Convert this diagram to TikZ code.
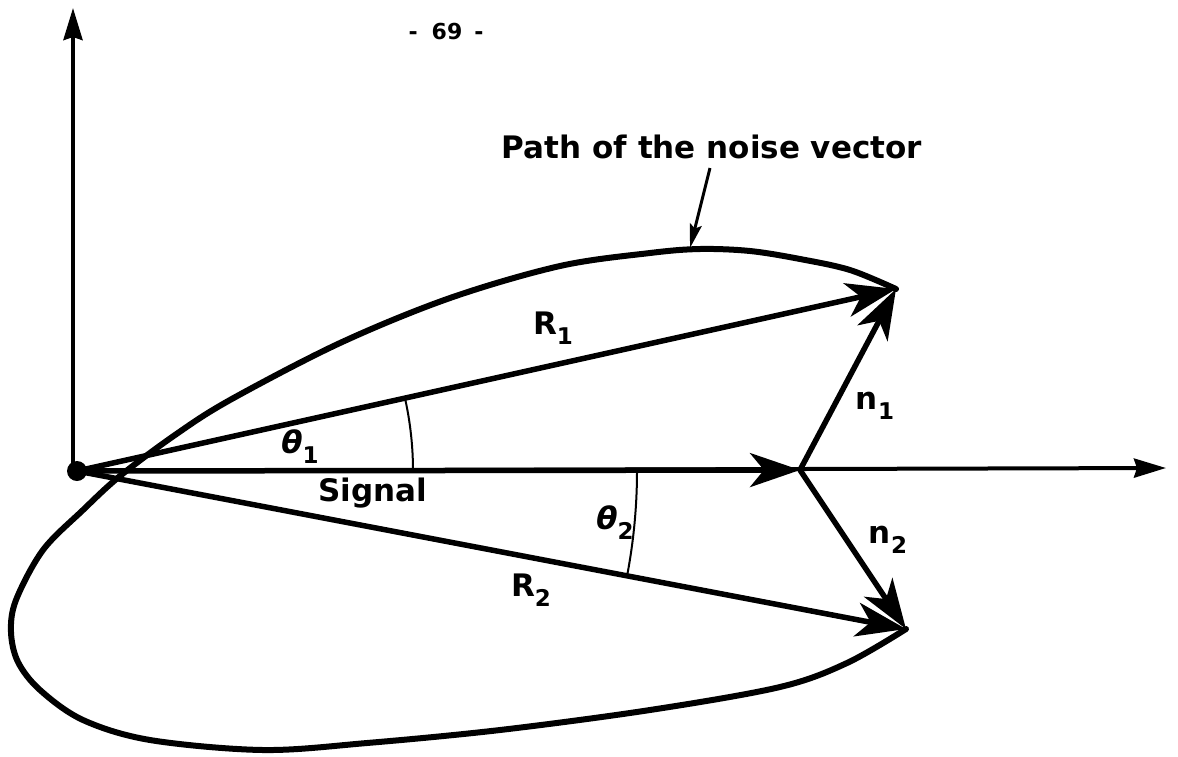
\documentclass[tikz,border=0pt]{standalone}
\usepackage{fontspec}
\setmainfont{DejaVu Sans}
\usetikzlibrary{arrows.meta}
\newcommand\lsub[1]{\raisebox{-0.32em}{\fontsize{23}{23}\selectfont #1}}
\begin{document}
\begin{tikzpicture}[x=1pt,y=-1pt,
  lbl/.style={inner sep=0pt, font=\fontsize{31}{31}\selectfont\bfseries},
  vec/.style={line width=5.5pt, -{Stealth[length=50pt,width=34pt,inset=14pt]}},
  axis/.style={line width=4pt, -{Stealth[length=32pt,width=19pt,inset=3pt]}},
  curvepath/.style={line width=6pt, line join=round, line cap=round},
  anglearc/.style={line width=2pt},
  pointer/.style={line width=3pt, -{Stealth[length=24pt,width=12pt,inset=4pt]}}]
\useasboundingbox (0,0) rectangle (1178,756);
% key points
\coordinate (O) at (77,471);
\coordinate (Oy) at (73,471);
\coordinate (Ytop) at (73,8);
\coordinate (Xend) at (1166,468);
\coordinate (J) at (800,470);
\coordinate (P1) at (896,289);
\coordinate (P2) at (906,629);
\coordinate (Ptail) at (710,168);
\coordinate (Phead) at (690,248);
% noise path
\draw[curvepath] plot[smooth, tension=0.55] coordinates {
 (896,289) (850,270) (800,259) (750,251) (700,249) (650,253) (560,266)
 (450,298) (340,343) (230,400) (175,435) (120,476) (83,510)
 (43,550) (16,600) (11,632) (18,662) (40,690) (83,720) (150,740)
 (263,750) (367,743) (500,730) (650,710) (780,687) (847,663) (906,629)};
% axes
\draw[axis] (Oy) -- (Ytop);
\draw[axis] (O) -- (Xend);
% angle arcs
\draw[anglearc] (O) ++(336,0) arc[start angle=0, end angle=-12.46, radius=336];
\draw[anglearc] (O) ++(560,0) arc[start angle=0, end angle=10.79, radius=560];
% vectors
\draw[vec] (O) -- (J);
\draw[vec] (O) -- (P1);
\draw[vec] (O) -- (P2);
\draw[vec] (J) -- (P1);
\draw[vec] (J) -- (P2);
\fill (O) circle[radius=10];
% pointer
\draw[pointer] (Ptail) -- (Phead);
% labels
\node[inner sep=0pt, font=\fontsize{22}{22}\selectfont\bfseries] (page) at (446,31) {-\hspace{14pt}69\hspace{12pt}-};
\node[lbl] (pathlbl) at (712,147) {Path of the noise vector};
\node[lbl] (sig) at (373,493) {Signal};
\node[lbl] (r1) at (553,328) {R\lsub{1}};
\node[lbl] (r2) at (531,590) {R\lsub{2}};
\node[lbl] (t1) at (300,447) {\itshape θ\lsub{\upshape 1}};
\node[lbl] (t2) at (615,523) {\itshape θ\lsub{\upshape 2}};
\node[lbl] (n1) at (875,406) {n\lsub{1}};
\node[lbl] (n2) at (888,540) {n\lsub{2}};
\end{tikzpicture}
\end{document}
